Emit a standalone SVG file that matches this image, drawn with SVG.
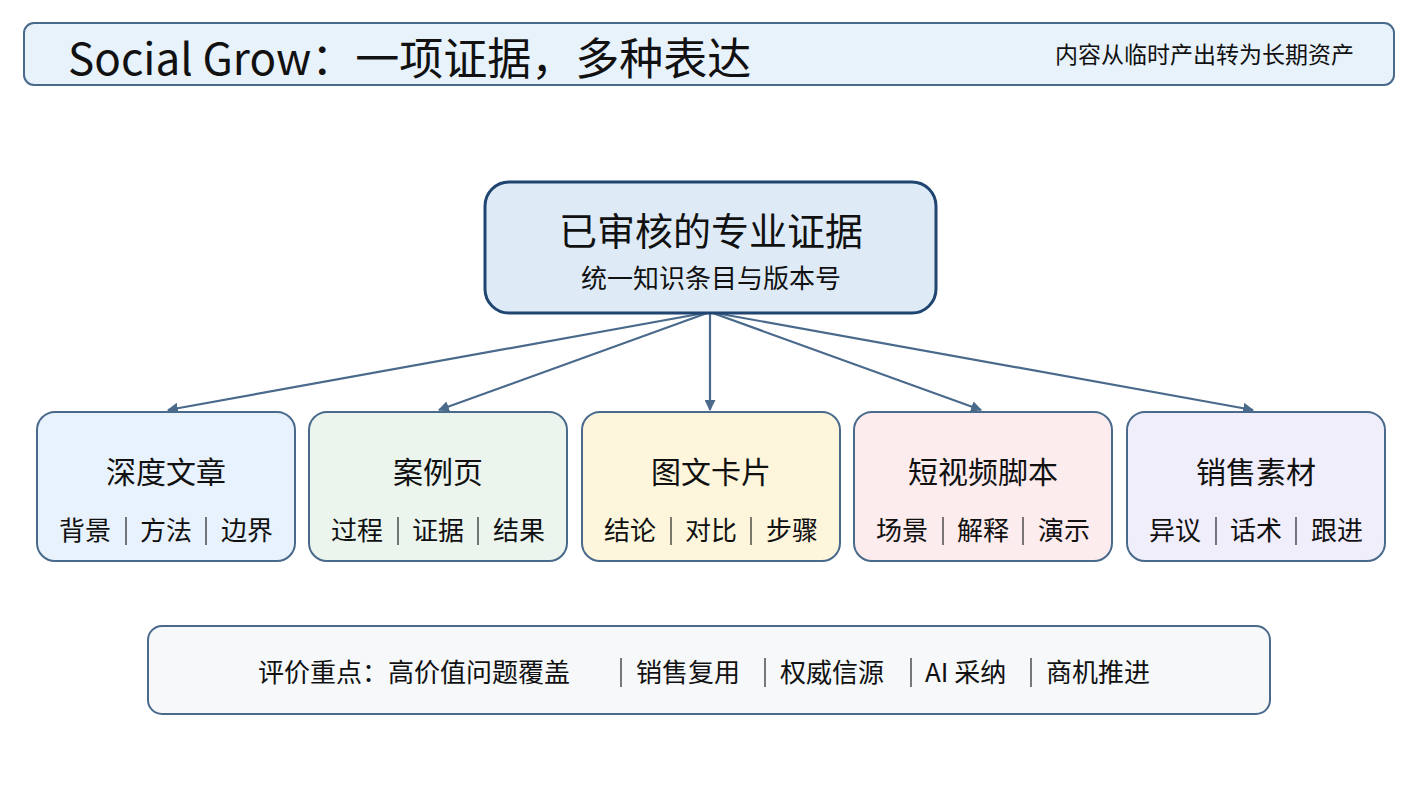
<svg xmlns="http://www.w3.org/2000/svg" width="1419" height="794" viewBox="0 0 1419 794">
<style>
text{font-family:"Noto Sans CJK SC","Noto Sans",sans-serif;fill:#111;text-anchor:middle}
.card{stroke:#4a6a8c;stroke-width:2}
.c{stroke:#4a6a8c;stroke-width:2.2;fill:none;marker-end:url(#a)}
.t{font-size:30px}.s{font-size:26px}
.f{font-size:26px;text-anchor:start}
.sep{stroke:#222;stroke-width:1.2}
</style>
<defs><marker id="a" viewBox="0 0 10 10" refX="9" refY="5" markerWidth="5" markerHeight="5" orient="auto"><path d="M0,0L10,5L0,10z" fill="#4a6a8c"/></marker>
<g id="seps"><line class="sep" x1="-40" y1="517" x2="-40" y2="545"/><line class="sep" x1="40" y1="517" x2="40" y2="545"/></g></defs>
<rect width="1419" height="794" fill="#fff"/>
<g id="header"><rect x="24" y="23" width="1370" height="62" rx="10" fill="#e8f2fb" class="card"/>
<text x="68" y="75" style="font-size:44px;text-anchor:start">Social Grow：一项证据，多种表达</text>
<text x="1354" y="63" style="font-size:23px;text-anchor:end">内容从临时产出转为长期资产</text></g>
<g id="connectors">
<path class="c" d="M710,312L168,410"/><path class="c" d="M710,312L439,410"/><path class="c" d="M710,312L710,410"/><path class="c" d="M710,312L981,410"/><path class="c" d="M710,312L1253,410"/></g>
<g id="core"><rect x="485" y="182" width="451" height="131" rx="24" fill="#deebf7" stroke="#1f4570" stroke-width="3"/>
<text x="711" y="245" style="font-size:38px">已审核的专业证据</text><text x="711" y="288" style="font-size:26px">统一知识条目与版本号</text></g>
<g id="n1"><rect x="37" y="412" width="258" height="149" rx="18" fill="#e8f2fc" class="card"/><text x="166" y="483" class="t">深度文章</text><text x="85" y="540" class="s">背景</text><text x="166" y="540" class="s">方法</text><text x="247" y="540" class="s">边界</text><use href="#seps" x="166"/></g>
<g id="n2"><rect x="309" y="412" width="258" height="149" rx="18" fill="#ebf5ee" class="card"/><text x="438" y="483" class="t">案例页</text><text x="357" y="540" class="s">过程</text><text x="438" y="540" class="s">证据</text><text x="519" y="540" class="s">结果</text><use href="#seps" x="438"/></g>
<g id="n3"><rect x="582" y="412" width="258" height="149" rx="18" fill="#fdf6dc" class="card"/><text x="711" y="483" class="t">图文卡片</text><text x="630" y="540" class="s">结论</text><text x="711" y="540" class="s">对比</text><text x="792" y="540" class="s">步骤</text><use href="#seps" x="711"/></g>
<g id="n4"><rect x="854" y="412" width="258" height="149" rx="18" fill="#fcecee" class="card"/><text x="983" y="483" class="t">短视频脚本</text><text x="902" y="540" class="s">场景</text><text x="983" y="540" class="s">解释</text><text x="1064" y="540" class="s">演示</text><use href="#seps" x="983"/></g>
<g id="n5"><rect x="1127" y="412" width="258" height="149" rx="18" fill="#f1eefc" class="card"/><text x="1256" y="483" class="t">销售素材</text><text x="1175" y="540" class="s">异议</text><text x="1256" y="540" class="s">话术</text><text x="1337" y="540" class="s">跟进</text><use href="#seps" x="1256"/></g>
<g id="footer"><rect x="148" y="626" width="1122" height="88" rx="14" fill="#f6f8fa" class="card"/>
<text x="258" y="682" class="f">评价重点：高价值问题覆盖</text><text x="636" y="682" class="f">销售复用</text><text x="780" y="682" class="f">权威信源</text><text x="925" y="682" class="f">AI 采纳</text><text x="1046" y="682" class="f">商机推进</text>
<line class="sep" x1="621" y1="658" x2="621" y2="687"/><line class="sep" x1="765" y1="658" x2="765" y2="687"/><line class="sep" x1="911" y1="658" x2="911" y2="687"/><line class="sep" x1="1031" y1="658" x2="1031" y2="687"/></g>
</svg>
